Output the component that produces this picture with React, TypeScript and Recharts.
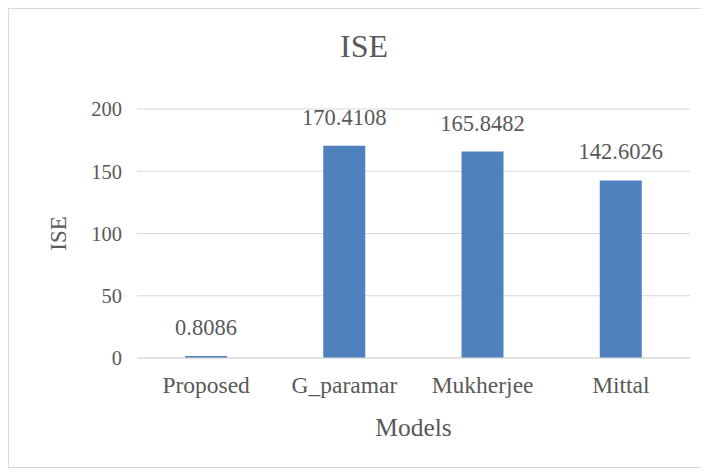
import { BarChart, Bar, XAxis, YAxis, CartesianGrid, LabelList } from 'recharts';

const models = ['Proposed', 'G_paramar', 'Mukherjee', 'Mittal'];
const iseValues = [0.8086, 170.4108, 165.8482, 142.6026];
const yTicks = [0, 50, 100, 150, 200];

const data = models.map((name, i) => ({ name, ise: iseValues[i] }));

const FONT = "'Liberation Serif', 'Times New Roman', serif";
const TEXT = '#595959';
const GRID = '#d9d9d9';

export default function App() {
  return (
    <div
      style={{
        position: 'relative',
        width: 696,
        height: 460,
        border: `1px solid ${GRID}`,
        boxSizing: 'border-box',
        background: '#fff',
        fontFamily: FONT,
      }}
    >
      <div
        style={{
          position: 'absolute',
          left: 305,
          top: 19,
          width: 100,
          textAlign: 'center',
          fontSize: 32,
          color: TEXT,
          lineHeight: '36px',
        }}
      >
        ISE
      </div>
      <BarChart
        width={694}
        height={458}
        data={data}
        style={{ fontFamily: FONT }}
        margin={{ top: 100, right: 13, bottom: 0, left: 0 }}
      >
        <CartesianGrid vertical={false} stroke={GRID} />
        <XAxis
          dataKey="name"
          height={109}
          axisLine={{ stroke: GRID }}
          tickLine={false}
          tickMargin={12}
          tick={{ fontSize: 23.5, fill: TEXT }}
          label={{
            value: 'Models',
            position: 'insideBottom',
            offset: 31,
            fontSize: 25.5,
            fill: TEXT,
          }}
        />
        <YAxis
          width={128}
          domain={[0, 200]}
          ticks={yTicks}
          axisLine={false}
          tickLine={false}
          tickMargin={9}
          tick={{ fontSize: 20.5, fill: TEXT }}
          label={{
            value: 'ISE',
            content: (props: any) => {
              const vb = props.viewBox;
              const cx = vb.x + 57;
              const cy = vb.y + vb.height / 2;
              return (
                <text
                  x={cx}
                  y={cy}
                  transform={`rotate(-90 ${cx} ${cy})`}
                  textAnchor="middle"
                  fontSize={23}
                  fill={TEXT}
                >
                  ISE
                </text>
              );
            },
          }}
        />
        <Bar dataKey="ise" fill="#4f81bd" barSize={42} minPointSize={2} isAnimationActive={false}>
          <LabelList
            dataKey="ise"
            position="top"
            offset={21}
            fontSize={22.5}
            fill={TEXT}
          />
        </Bar>
      </BarChart>
    </div>
  );
}
